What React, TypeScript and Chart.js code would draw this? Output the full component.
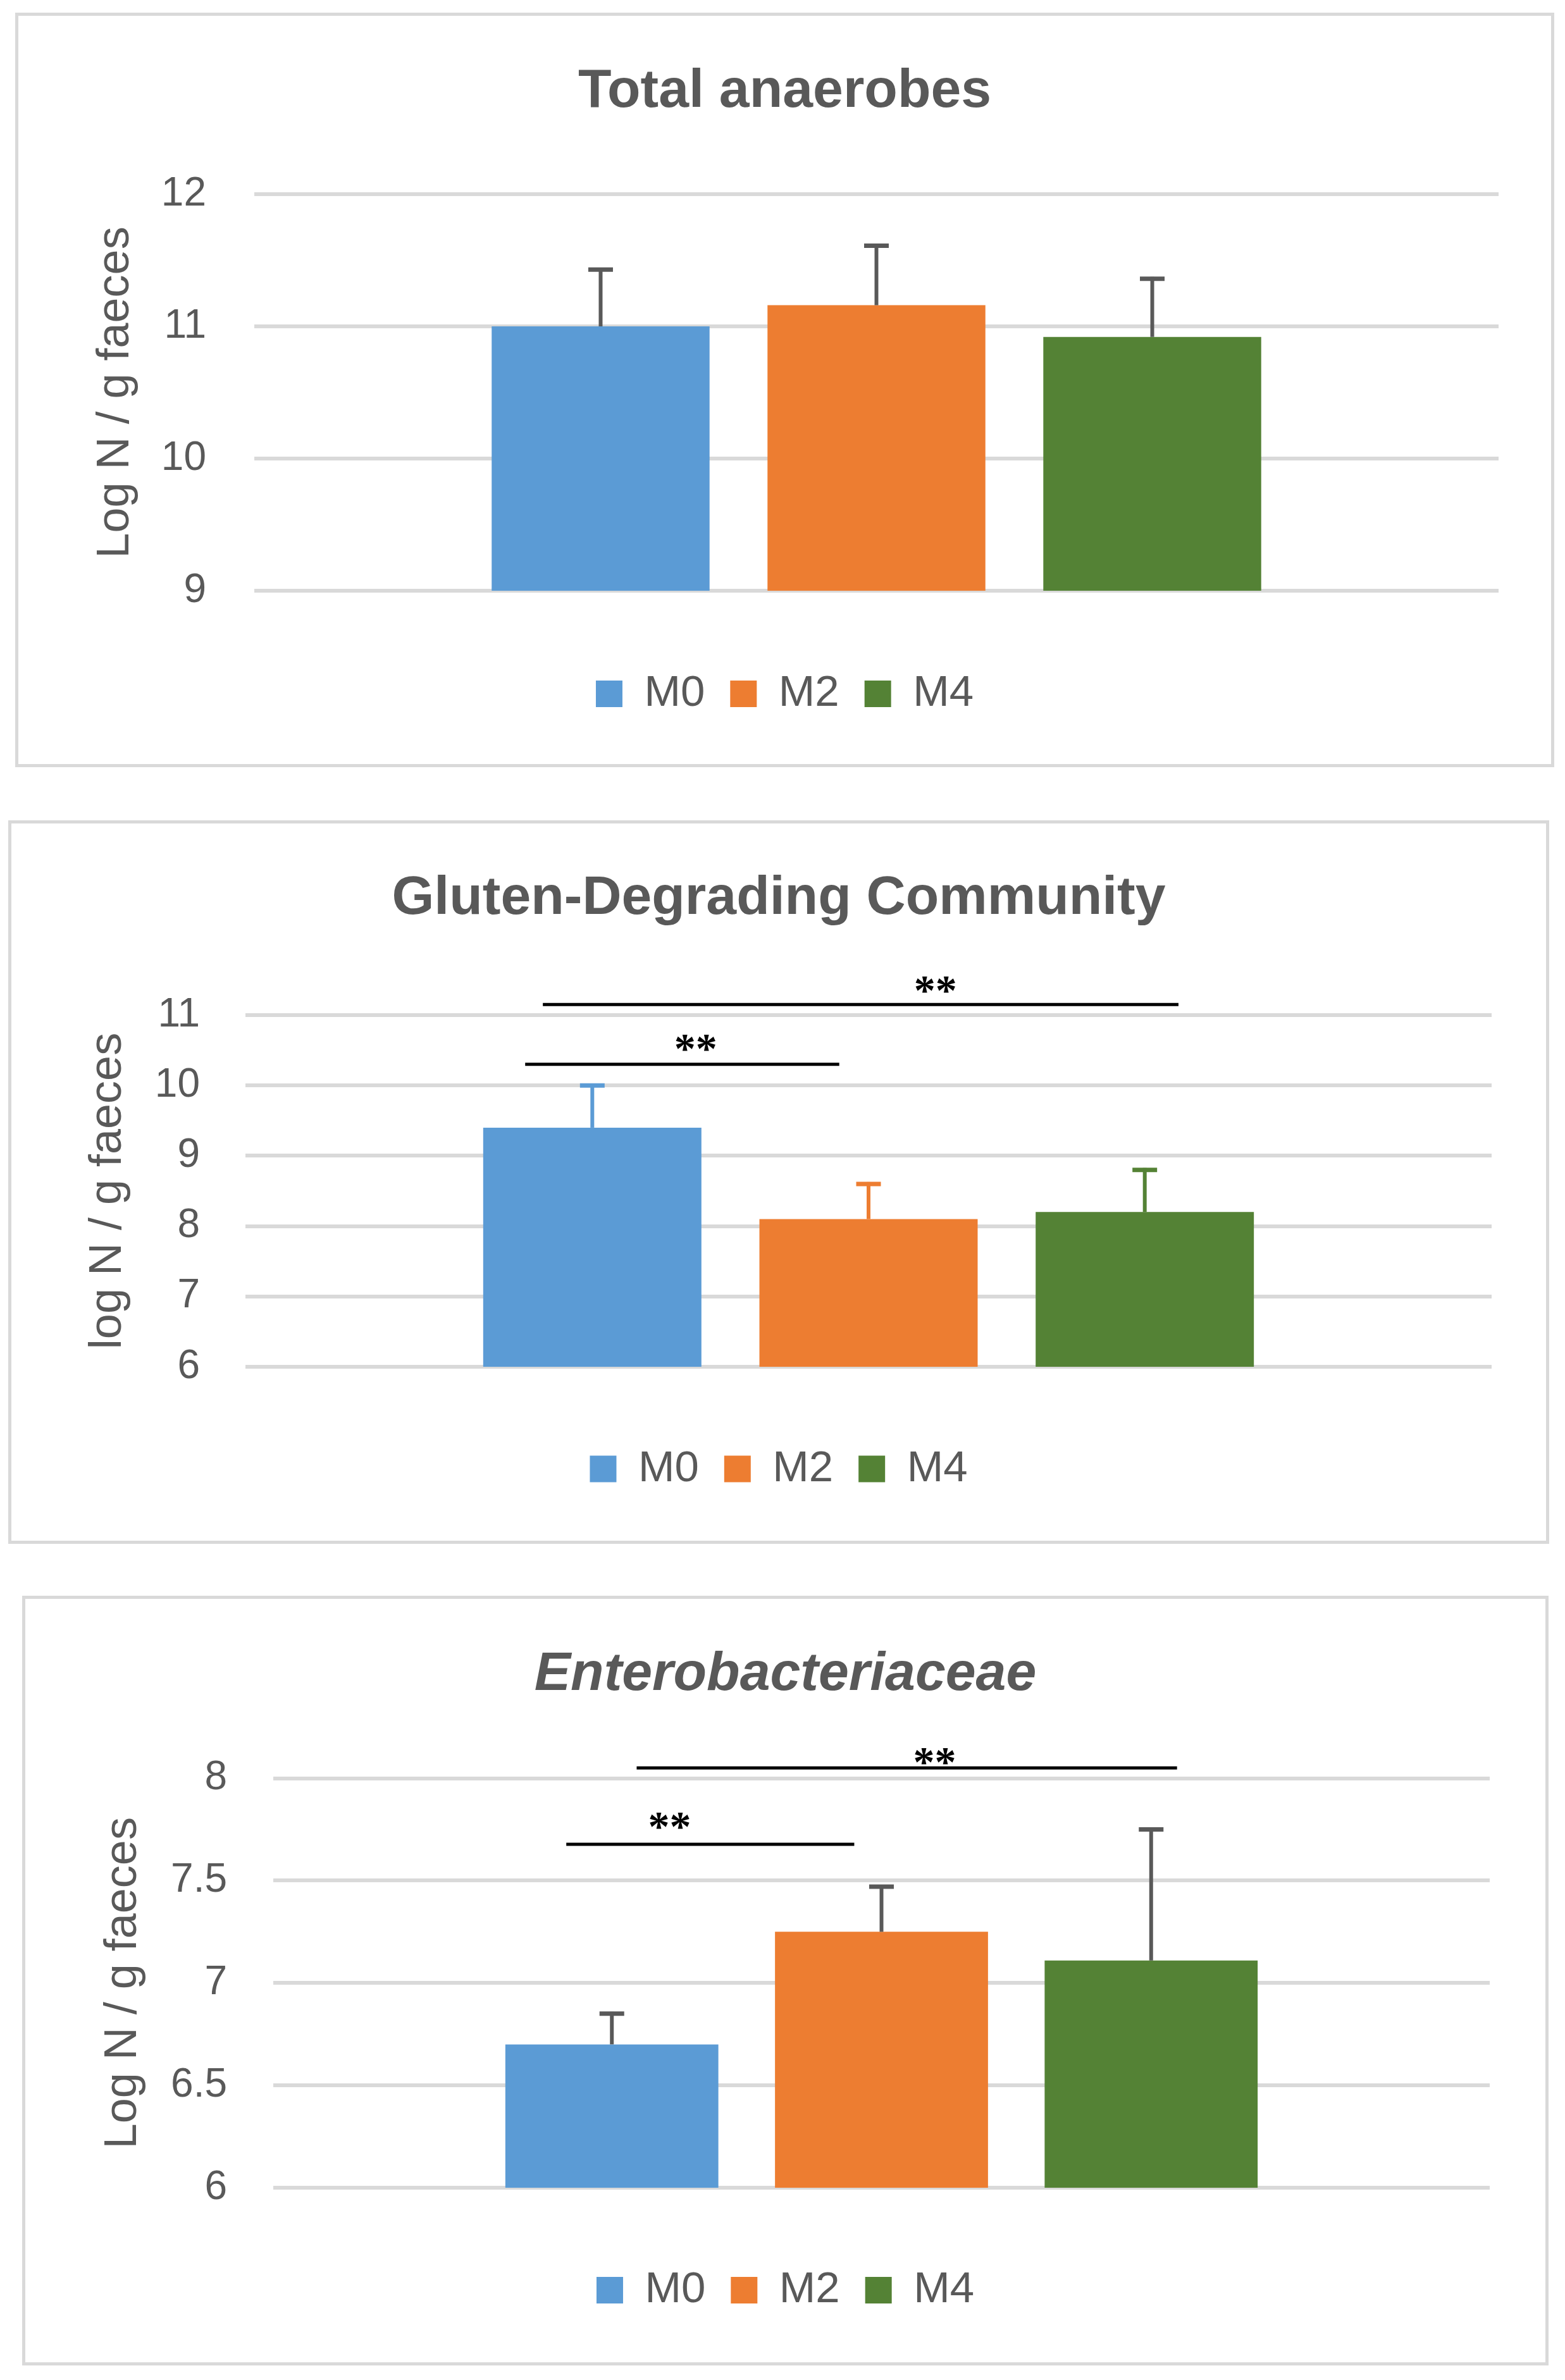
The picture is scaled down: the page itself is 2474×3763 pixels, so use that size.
import React, { useEffect, useRef } from "react";
import { Chart, registerables } from "chart.js";

Chart.register(...registerables);

// ---------- data ----------
const categories = [""];
const seriesLabels = ["M0", "M2", "M4"];
const seriesColors = ["#5B9BD5", "#ED7D31", "#548235"];

// Panel 1: Total anaerobes
const anaerobesTitle = "Total anaerobes";
const anaerobesYTitle = "Log N / g faeces";
const anaerobesMeans = [11.0, 11.16, 10.92];
const anaerobesErrTop = [11.43, 11.61, 11.36];
const anaerobesTickValues = [9, 10, 11, 12];
const anaerobesTickLabels = ["9", "10", "11", "12"];

// Panel 2: Gluten-Degrading Community
const glutenTitle = "Gluten-Degrading Community";
const glutenYTitle = "log N / g faeces";
const glutenMeans = [9.4, 8.1, 8.2];
const glutenErrTop = [10.0, 8.6, 8.8];
const glutenTickValues = [6, 7, 8, 9, 10, 11];
const glutenTickLabels = ["6", "7", "8", "9", "10", "11"];
const glutenSigLabels = ["**", "**"];
const glutenSigLevels = [10.3, 11.15];
const glutenSigTextLevels = [10.49, 11.32];

// Panel 3: Enterobacteriaceae
const enteroTitle = "Enterobacteriaceae";
const enteroYTitle = "Log N / g faeces";
const enteroMeans = [6.7, 7.25, 7.11];
const enteroErrTop = [6.85, 7.47, 7.75];
const enteroTickValues = [6, 6.5, 7, 7.5, 8];
const enteroTickLabels = ["6", "6.5", "7", "7.5", "8"];
const enteroSigLabels = ["**", "**"];
const enteroSigLevels = [7.677, 8.05];
const enteroSigTextLevels = [7.753, 8.068];

// ---------- styles ----------
const FONT = "'Liberation Sans', Arial, Helvetica, sans-serif";
const SERIF = "'Liberation Serif', 'Times New Roman', serif";
const TEXT = "#595959";
const GRID = "#d9d9d9";
const ERR_GREY = "#595959";

// span geometry of the significance brackets, in bar-index units [start, end, text]
const glutenSigSpans = [
  [-0.243, 0.894, 0.374],
  [-0.179, 2.122, 1.242],
];
const enteroSigSpans = [
  [-0.169, 0.899, 0.214],
  [0.092, 2.096, 1.197],
];

type Layout = {
  left: number;
  top: number;
  width: number;
  height: number;
  side: number;
  bottom: number;
  xAxisH: number;
  yW: number;
  tickPad: number;
  yTitlePadTop: number;
  tTop: number;
  tBottom: number;
};

type Spec = {
  title: string;
  italic: boolean;
  yTitle: string;
  means: number[];
  errTop: number[];
  errColors: string[];
  tickValues: number[];
  tickLabels: string[];
  min: number;
  max: number;
  sigLabels: string[];
  sigLevels: number[];
  sigTextLevels: number[];
  sigSpans: number[][];
  layout: Layout;
};

const specs: Spec[] = [
  {
    title: anaerobesTitle,
    italic: false,
    yTitle: anaerobesYTitle,
    means: anaerobesMeans,
    errTop: anaerobesErrTop,
    errColors: [ERR_GREY, ERR_GREY, ERR_GREY],
    tickValues: anaerobesTickValues,
    tickLabels: anaerobesTickLabels,
    min: 9,
    max: 12,
    sigLabels: [],
    sigLevels: [],
    sigTextLevels: [],
    sigSpans: [],
    layout: {
      left: 24, top: 20, width: 2433, height: 1193,
      side: 83, bottom: 66.5, xAxisH: 88.5, yW: 290, tickPad: 76,
      yTitlePadTop: 27.8, tTop: 68.4, tBottom: 110.4,
    },
  },
  {
    title: glutenTitle,
    italic: false,
    yTitle: glutenYTitle,
    means: glutenMeans,
    errTop: glutenErrTop,
    errColors: seriesColors,
    tickValues: glutenTickValues,
    tickLabels: glutenTickLabels,
    min: 6,
    max: 11,
    sigLabels: glutenSigLabels,
    sigLevels: glutenSigLevels,
    sigTextLevels: glutenSigTextLevels,
    sigSpans: glutenSigSpans,
    layout: {
      left: 13, top: 1297, width: 2436, height: 1144,
      side: 86, bottom: 69, xAxisH: 87, yW: 284, tickPad: 72,
      yTitlePadTop: 23.8, tTop: 67.4, tBottom: 132.4,
    },
  },
  {
    title: enteroTitle,
    italic: true,
    yTitle: enteroYTitle,
    means: enteroMeans,
    errTop: enteroErrTop,
    errColors: [ERR_GREY, ERR_GREY, ERR_GREY],
    tickValues: enteroTickValues,
    tickLabels: enteroTickLabels,
    min: 6,
    max: 8,
    sigLabels: enteroSigLabels,
    sigLevels: enteroSigLevels,
    sigTextLevels: enteroSigTextLevels,
    sigSpans: enteroSigSpans,
    layout: {
      left: 35, top: 2523, width: 2413, height: 1217,
      side: 88, bottom: 69.5, xAxisH: 87.5, yW: 304, tickPad: 73,
      yTitlePadTop: 23.8, tTop: 68.4, tBottom: 111.9,
    },
  },
];

function makeChart(canvas: HTMLCanvasElement, spec: Spec) {
  const L = spec.layout;

  const errorBars = {
    id: "errorBars",
    afterDatasetsDraw(chart: any) {
      const ctx = chart.ctx;
      const yScale = chart.scales.y;
      ctx.save();
      spec.errTop.forEach((top, i) => {
        const bar = chart.getDatasetMeta(i).data[0];
        if (!bar) return;
        const x = bar.x;
        const yTop = yScale.getPixelForValue(top);
        const yBase = bar.y;
        ctx.strokeStyle = spec.errColors[i];
        ctx.lineWidth = 6;
        ctx.lineCap = "butt";
        ctx.beginPath();
        ctx.moveTo(x, yBase);
        ctx.lineTo(x, yTop - 3);
        ctx.stroke();
        ctx.lineWidth = 7;
        ctx.beginPath();
        ctx.moveTo(x - 19.5, yTop);
        ctx.lineTo(x + 19.5, yTop);
        ctx.stroke();
      });
      ctx.restore();
    },
  };

  const sigBrackets = {
    id: "sigBrackets",
    afterDatasetsDraw(chart: any) {
      if (!spec.sigLevels.length) return;
      const ctx = chart.ctx;
      const yScale = chart.scales.y;
      const xs = [0, 1, 2].map((i) => chart.getDatasetMeta(i).data[0].x);
      const pitch = xs[1] - xs[0];
      const px = (p: number) => xs[0] + p * pitch;
      ctx.save();
      spec.sigLevels.forEach((lvl, k) => {
        const [a, b, t] = spec.sigSpans[k];
        const y = yScale.getPixelForValue(lvl);
        ctx.strokeStyle = "#000";
        ctx.lineWidth = 5;
        ctx.beginPath();
        ctx.moveTo(px(a), y);
        ctx.lineTo(px(b), y);
        ctx.stroke();
        ctx.fillStyle = "#000";
        ctx.font = `bold 68px ${SERIF}`;
        ctx.textAlign = "center";
        ctx.textBaseline = "middle";
        ctx.fillText(spec.sigLabels[k], px(t), yScale.getPixelForValue(spec.sigTextLevels[k]) + 1);
      });
      ctx.restore();
    },
  };

  return new Chart(canvas, {
    type: "bar",
    data: {
      labels: categories,
      datasets: seriesLabels.map((lab, i) => ({
        label: lab,
        data: [spec.means[i]],
        backgroundColor: seriesColors[i],
        borderWidth: 0,
        categoryPercentage: 0.665,
        barPercentage: 0.79,
      })),
    },
    options: {
      responsive: false,
      animation: false,
      devicePixelRatio: 1,
      events: [],
      layout: { padding: { left: L.side, right: L.side, top: 0, bottom: L.bottom } },
      scales: {
        x: {
          display: true,
          grid: { display: false },
          border: { display: false },
          ticks: { display: false },
          afterFit: (s: any) => {
            s.height = L.xAxisH;
          },
        },
        y: {
          min: spec.min,
          max: spec.max,
          afterBuildTicks: (s: any) => {
            s.ticks = spec.tickValues.map((v) => ({ value: v }));
          },
          ticks: {
            padding: L.tickPad,
            color: TEXT,
            font: { family: FONT, size: 64 },
            callback: (_v: any, i: number) => spec.tickLabels[i],
          },
          grid: { color: GRID, lineWidth: 6, drawTicks: false },
          border: { display: false },
          title: {
            display: true,
            text: spec.yTitle,
            color: TEXT,
            font: { family: FONT, size: 72, lineHeight: 1.2 },
            padding: { top: L.yTitlePadTop, bottom: 0 },
          },
          afterFit: (s: any) => {
            s.width = L.yW;
          },
        },
      },
      plugins: {
        title: {
          display: true,
          text: spec.title,
          color: TEXT,
          font: {
            family: FONT,
            size: 86,
            weight: "bold",
            style: spec.italic ? "italic" : "normal",
            lineHeight: 1.2,
          },
          padding: { top: L.tTop, bottom: L.tBottom },
        },
        legend: {
          position: "bottom",
          labels: {
            color: TEXT,
            font: { family: FONT, size: 69 },
            boxWidth: 42,
            boxHeight: 42,
            padding: 40,
          },
        },
        tooltip: { enabled: false },
      },
    } as any,
    plugins: [errorBars, sigBrackets],
  });
}

function Panel({ spec }: { spec: Spec }) {
  const ref = useRef<HTMLCanvasElement | null>(null);
  useEffect(() => {
    if (!ref.current) return;
    const chart = makeChart(ref.current, spec);
    return () => chart.destroy();
  }, [spec]);
  const L = spec.layout;
  return (
    <div
      style={{
        position: "absolute",
        left: L.left,
        top: L.top,
        width: L.width,
        height: L.height,
        border: `5px solid ${GRID}`,
        boxSizing: "border-box",
        background: "#fff",
      }}
    >
      <canvas
        ref={ref}
        width={L.width - 10}
        height={L.height - 10}
        style={{ display: "block", width: L.width - 10, height: L.height - 10 }}
      />
    </div>
  );
}

export default function App() {
  return (
    <div
      style={{
        position: "absolute",
        left: 0,
        top: 0,
        width: 2474,
        height: 3763,
        background: "#fff",
        overflow: "hidden",
      }}
    >
      {specs.map((s, i) => (
        <Panel key={i} spec={s} />
      ))}
    </div>
  );
}
